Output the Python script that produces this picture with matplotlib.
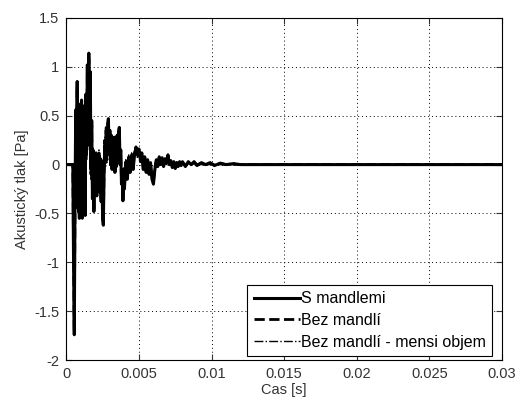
import numpy as np
import matplotlib
matplotlib.use("Agg")
import matplotlib.pyplot as plt

plt.rcParams['font.family'] = ['Liberation Sans', 'DejaVu Sans']

# time samples in ms
t_ms = [0.00,
        0.45, 0.50, 0.55, 0.60, 0.65, 0.70, 0.75, 0.80, 0.85, 0.90, 0.95, 1.00,
        1.05, 1.10, 1.15, 1.20, 1.25, 1.30, 1.35, 1.40, 1.45, 1.50, 1.55, 1.60,
        1.65, 1.70, 1.75, 1.80, 1.85, 1.90, 1.95, 2.00, 2.05, 2.10, 2.15, 2.20,
        2.25, 2.30, 2.35, 2.40, 2.45, 2.50, 2.55, 2.60, 2.65, 2.70, 2.75, 2.80,
        2.85, 2.90, 2.95, 3.00, 3.05, 3.10, 3.15, 3.20, 3.25, 3.30, 3.35, 3.40,
        3.45, 3.50, 3.55, 3.60, 3.65, 3.70, 3.75, 3.80, 3.85, 3.90, 3.95, 4.00,
        4.1, 4.2, 4.3, 4.4, 4.5, 4.6, 4.7, 4.8, 4.9, 5.0,
        5.1, 5.2, 5.3, 5.4, 5.5, 5.6, 5.7, 5.8, 5.9, 6.0,
        6.1, 6.2, 6.3, 6.4, 6.5, 6.6, 6.7, 6.8, 6.9, 7.0,
        7.1, 7.2, 7.3, 7.4, 7.5, 7.6, 7.7, 7.8, 7.9, 8.0,
        8.2, 8.4, 8.6, 8.8, 9.0, 9.3, 9.6, 9.9, 10.2, 10.6, 11.0, 11.5, 12.0, 13.0, 30.0]

s_mandlemi = [0.0,
              0.0, -1.0, -1.74, -0.35, 0.56, -0.25, 0.85, -0.4, 0.62, -0.55, 0.45, -0.35,
              0.66, -0.5, 0.6, -0.3, 0.4, -0.52, 0.72, 0.15, 1.02, 0.2, 1.14, 0.35,
              0.95, -0.05, 0.45, -0.35, 0.12, -0.48, 0.05, -0.25, 0.12, -0.32, 0.02, -0.18,
              0.1, -0.28, 0.06, -0.38, -0.02, -0.55, -0.62, -0.1, 0.2, 0.05, 0.35, 0.1,
              0.42, 0.47, 0.1, 0.35, 0.0, 0.3, -0.05, 0.25, 0.0, 0.28, -0.08, 0.22,
              -0.02, 0.3, 0.05, 0.33, 0.38, 0.0, 0.15, -0.2, -0.05, -0.37, -0.1, -0.25,
              0.0, -0.15, 0.05, -0.08, 0.08, -0.05, 0.1, 0.18, 0.1, 0.16,
              0.05, 0.12, -0.05, 0.08, -0.08, 0.05, -0.1, 0.02, -0.15, -0.2,
              -0.05, 0.05, -0.02, 0.08, 0.0, 0.07, -0.02, 0.06, 0.02, 0.1,
              0.0, 0.04, -0.03, 0.03, -0.04, 0.02, -0.02, 0.03, -0.01, 0.03,
              -0.02, 0.03, 0.0, 0.03, -0.01, 0.02, 0.0, 0.02, -0.01, 0.015, 0.0, 0.01, 0.0, 0.0, 0.0]

bez_mandli = [0.0,
              0.0, -0.9, -1.7, -0.4, 0.5, -0.3, 0.8, -0.45, 0.58, -0.5, 0.5, -0.4,
              0.6, -0.55, 0.55, -0.25, 0.45, -0.48, 0.68, 0.1, 0.98, 0.25, 1.08, 0.3,
              0.9, -0.1, 0.4, -0.3, 0.15, -0.45, 0.0, -0.3, 0.1, -0.28, 0.05, -0.22,
              0.12, -0.25, 0.02, -0.35, 0.02, -0.5, -0.58, -0.05, 0.25, 0.0, 0.38, 0.05,
              0.4, 0.44, 0.15, 0.3, 0.05, 0.27, -0.02, 0.2, 0.04, 0.25, -0.05, 0.18,
              0.0, 0.27, 0.08, 0.3, 0.35, 0.05, 0.1, -0.15, -0.08, -0.33, -0.05, -0.2,
              0.03, -0.12, 0.08, -0.05, 0.1, -0.02, 0.12, 0.16, 0.08, 0.14,
              0.03, 0.1, -0.03, 0.06, -0.06, 0.04, -0.08, 0.0, -0.12, -0.17,
              -0.03, 0.04, -0.01, 0.06, 0.01, 0.05, -0.01, 0.05, 0.01, 0.08,
              0.01, 0.03, -0.02, 0.02, -0.03, 0.02, -0.01, 0.02, 0.0, 0.02,
              -0.01, 0.02, 0.0, 0.02, 0.0, 0.01, 0.0, 0.01, 0.0, 0.01, 0.0, 0.005, 0.0, 0.0, 0.0]

bez_mandli_mensi = [0.0,
                    0.0, -0.8, -1.6, -0.45, 0.45, -0.35, 0.75, -0.5, 0.55, -0.45, 0.52, -0.42,
                    0.58, -0.5, 0.5, -0.2, 0.5, -0.45, 0.65, 0.05, 0.95, 0.3, 1.05, 0.25,
                    0.85, -0.15, 0.35, -0.25, 0.18, -0.42, -0.05, -0.32, 0.08, -0.25, 0.08, -0.25,
                    0.15, -0.22, 0.0, -0.32, 0.05, -0.45, -0.55, 0.0, 0.28, -0.02, 0.36, 0.02,
                    0.38, 0.42, 0.18, 0.28, 0.08, 0.25, 0.0, 0.18, 0.06, 0.22, -0.03, 0.15,
                    0.02, 0.25, 0.1, 0.28, 0.32, 0.08, 0.06, -0.12, -0.1, -0.3, -0.02, -0.18,
                    0.05, -0.1, 0.1, -0.03, 0.12, 0.0, 0.13, 0.15, 0.06, 0.12,
                    0.02, 0.08, -0.02, 0.05, -0.05, 0.03, -0.06, -0.02, -0.1, -0.15,
                    -0.02, 0.03, 0.0, 0.05, 0.02, 0.04, 0.0, 0.04, 0.0, 0.06,
                    0.02, 0.02, -0.01, 0.02, -0.02, 0.01, -0.01, 0.01, 0.0, 0.01,
                    0.0, 0.01, 0.0, 0.01, 0.0, 0.0, 0.0, 0.0, 0.0, 0.0, 0.0, 0.0, 0.0, 0.0, 0.0]

t = np.array(t_ms) / 1000.0

fig = plt.figure(figsize=(5.18, 3.98), dpi=100)
ax = fig.add_axes([0.128, 0.095, 0.841, 0.86])

ax.plot(t, s_mandlemi, color='black', lw=2.2, ls='-', label='S mandlemi')
ax.plot(t, bez_mandli, color='black', lw=2.0, ls='--', label='Bez mandlí')
ax.plot(t, bez_mandli_mensi, color='black', lw=1.0, ls='-.', label='Bez mandlí - mensi objem')

ax.set_xlim(0, 0.03)
ax.set_ylim(-2, 1.5)
xt = [0, 0.005, 0.01, 0.015, 0.02, 0.025, 0.03]
ax.set_xticks(xt)
ax.set_xticklabels(['0', '0.005', '0.01', '0.015', '0.02', '0.025', '0.03'])
yt = [-2, -1.5, -1, -0.5, 0, 0.5, 1, 1.5]
ax.set_yticks(yt)
ax.set_yticklabels(['-2', '-1.5', '-1', '-0.5', '0', '0.5', '1', '1.5'])

ax.grid(True, color='black', lw=0.7, dashes=(1, 3))
ax.tick_params(direction='in', top=True, right=True, labelsize=10.5, length=4, pad=5,
               colors='#333333')
for sp in ax.spines.values():
    sp.set_linewidth(0.8)

ax.set_xlabel('Cas [s]', fontsize=10.5, labelpad=1, color='#333333')
ax.set_ylabel('Akustický tlak [Pa]', fontsize=10.5, labelpad=4, color='#333333')

leg = ax.legend(loc='lower right', bbox_to_anchor=(0.977, 0.012), fontsize=11.5,
                handlelength=2.9, fancybox=False, framealpha=1, edgecolor='black',
                borderaxespad=0, handletextpad=0.05, labelspacing=0.42, borderpad=0.4)
leg.get_frame().set_linewidth(0.8)

fig.savefig('out.png', dpi=100)
